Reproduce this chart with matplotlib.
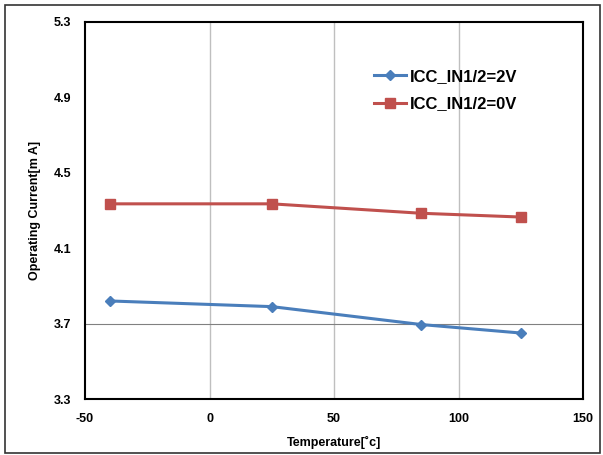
import matplotlib
matplotlib.use("Agg")
import matplotlib.pyplot as plt
from matplotlib.patches import Rectangle

plt.rcParams["font.family"] = ["Liberation Sans", "DejaVu Sans"]
plt.rcParams["axes.unicode_minus"] = False

temps = [-40, 25, 85, 125]
icc_2v = [3.82, 3.79, 3.695, 3.65]
icc_0v = [4.335, 4.335, 4.285, 4.265]
yticks = [3.3, 3.7, 4.1, 4.5, 4.9, 5.3]
xticks = [-50, 0, 50, 100, 150]

fig = plt.figure(figsize=(6.03, 4.55), dpi=100)
fig.patches.append(Rectangle((0.008, 0.004), 0.987, 0.985, transform=fig.transFigure,
                             fill=False, edgecolor="#333333", linewidth=1.2))
ax = fig.add_axes([0.141, 0.123, 0.826, 0.829])

ax.plot(temps, icc_2v, color="#4a7ebb", linewidth=2.2, marker="D", markersize=5,
        label="ICC_IN1/2=2V")
ax.plot(temps, icc_0v, color="#c0504d", linewidth=2.2, marker="s", markersize=7,
        label="ICC_IN1/2=0V")

ax.set_xlim(-50, 150)
ax.set_ylim(3.3, 5.3)
ax.set_xticks(xticks)
ax.set_yticks(yticks)
ax.set_yticklabels([f"{v:.1f}" for v in yticks])
for x in xticks[1:-1]:
    ax.axvline(x, color="#bfbfbf", linewidth=1, zorder=0)
ax.axhline(3.7, color="#808080", linewidth=0.8, zorder=0)

for s in ax.spines.values():
    s.set_linewidth(1.5)
ax.tick_params(length=0, pad=10, labelsize=9)
for lbl in ax.get_xticklabels() + ax.get_yticklabels():
    lbl.set_fontweight("bold")

ax.set_xlabel("Temperature[\u02dac]", fontsize=9, fontweight="bold", labelpad=8)
ax.set_ylabel("Operating Current[m A]", fontsize=9, fontweight="bold", labelpad=9)

ax.legend(loc="upper left", bbox_to_anchor=(0.55, 0.915), frameon=False,
          handlelength=1.9, handletextpad=0.25, labelspacing=0.75,
          prop={"weight": "bold", "size": 12})

fig.savefig("out.png", dpi=100)
